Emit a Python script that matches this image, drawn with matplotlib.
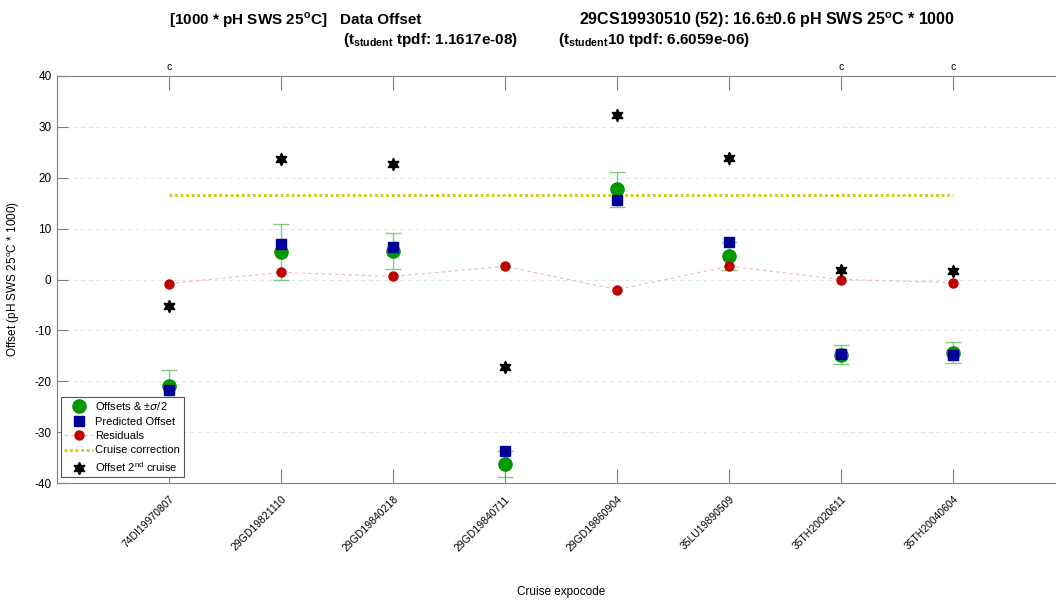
import matplotlib.pyplot as plt
import numpy as np

plt.rcParams['font.family'] = ['Liberation Sans', 'DejaVu Sans']
plt.rcParams['mathtext.fontset'] = 'custom'
plt.rcParams['mathtext.rm'] = 'Liberation Sans'
plt.rcParams['mathtext.bf'] = 'Liberation Sans:bold'
plt.rcParams['axes.unicode_minus'] = False

cruises = ['74DI19970807', '29GD19821110', '29GD19840218', '29GD19840711',
           '29GD19860904', '35LU19890509', '35TH20020611', '35TH20040604']
offsets = [-20.9, 5.5, 5.6, -36.3, 17.7, 4.6, -14.8, -14.4]
offset_err = [3.1, 5.5, 3.6, 2.6, 3.5, 2.7, 1.9, 2.1]
predicted = [-21.8, 6.9, 6.3, -33.8, 15.7, 7.3, -14.7, -14.9]
residuals = [-0.8, 1.4, 0.6, 2.6, -2.0, 2.6, 0.0, -0.6]
second_cruise = [-5.3, 23.6, 22.8, -17.2, 32.4, 23.8, 1.8, 1.6]
correction = 16.6
flags = ['c', '', '', '', '', '', 'c', 'c']

x = np.arange(1, len(cruises) + 1)

fig = plt.figure(figsize=(10.56, 6), dpi=100)
ax = fig.add_axes([57 / 1056, 117 / 600, 1008 / 1056, 407 / 600])

grey = '#808080'
for y in range(-30, 40, 10):
    ax.axhline(y, color='#e6e6e6', lw=0.8, ls=(0, (4, 3)), zorder=0)

# error bars on the offsets
ax.errorbar(x, offsets, yerr=offset_err, fmt='none', ecolor='#55c055',
            elinewidth=1.0, capsize=6, capthick=1.0, alpha=0.75, zorder=2)

ax.plot(x, offsets, 'o', color='#009900', ms=9.5, ls='none',
        label='Offsets & $\\pm\\sigma$/2', zorder=3)
ax.plot(x, predicted, 's', color='#000099', ms=7, ls='none',
        label='Predicted Offset', zorder=4)
ax.plot(x, residuals, color='#f2b8b8', ls=(0, (3, 3)), lw=0.8,
        marker='o', ms=6.5, markerfacecolor='#c00000',
        markeredgecolor='#c00000', label='Residuals', zorder=4)
ax.plot([x[0], x[-1]], [correction, correction], color='#cccc00', lw=2,
        ls=(0, (1, 1)), label='Cruise correction', zorder=2)
ax.plot(x, second_cruise, marker=(6, 1, 0), color='black', ms=9,
        ls='none', label='Offset 2$^{\\mathrm{nd}}$ cruise', zorder=5)

ax.set_xlim(0, 9)
ax.set_ylim(-40, 40)
ax.set_yticks(range(-40, 41, 10))
ax.set_xticks(x)
ax.set_xticklabels(cruises, rotation=45, ha='right', rotation_mode='anchor',
                   fontsize=7.5)
ax.tick_params(axis='y', labelsize=8.5, direction='in', length=8,
               color=grey, pad=4)
ax.tick_params(axis='x', direction='in', length=10, top=True, color=grey,
               pad=8)
for s in ax.spines.values():
    s.set_color(grey)

for xi, f in zip(x, flags):
    if f:
        ax.text(xi, 40.8, f, ha='center', va='bottom', fontsize=7.5)

ax.set_ylabel('Offset (pH SWS 25$^{\\mathrm{o}}$C * 1000)', fontsize=8.5,
              labelpad=9)
ax.set_xlabel('Cruise expocode', fontsize=8.5)
ax.xaxis.set_label_coords(0.5, -0.252)

leg = ax.legend(loc='lower left', bbox_to_anchor=(4 / 1008, 6 / 407),
                fontsize=8, frameon=True, fancybox=False, framealpha=1,
                edgecolor='#555555', handlelength=2.6, borderpad=0.3,
                labelspacing=0.4, handletextpad=0.2, borderaxespad=0)
leg.get_frame().set_linewidth(0.8)
leg.set_zorder(10)

tkw = dict(fontsize=11, fontweight='bold', va='center', ha='left')
fig.text(169 / 1056, 1 - 20 / 600,
         '[1000 * pH SWS 25$^{\\mathbf{o}}$C]', **tkw)
fig.text(340 / 1056, 1 - 20 / 600, 'Data Offset', **tkw)
fig.text(579 / 1056, 1 - 20 / 600,
         '29CS19930510 (52): 16.6$\\mathbf{\\pm}$0.6 pH SWS 25$^{\\mathbf{o}}$C * 1000',
         fontsize=11.5, fontweight='bold', va='center', ha='left')
fig.text(343 / 1056, 1 - 40 / 600,
         '(t$_{\\mathbf{student}}$ tpdf: 1.1617e-08)', **tkw)
fig.text(558 / 1056, 1 - 40 / 600,
         '(t$_{\\mathbf{student}}$10 tpdf: 6.6059e-06)', **tkw)

fig.savefig('out.png', dpi=100)
